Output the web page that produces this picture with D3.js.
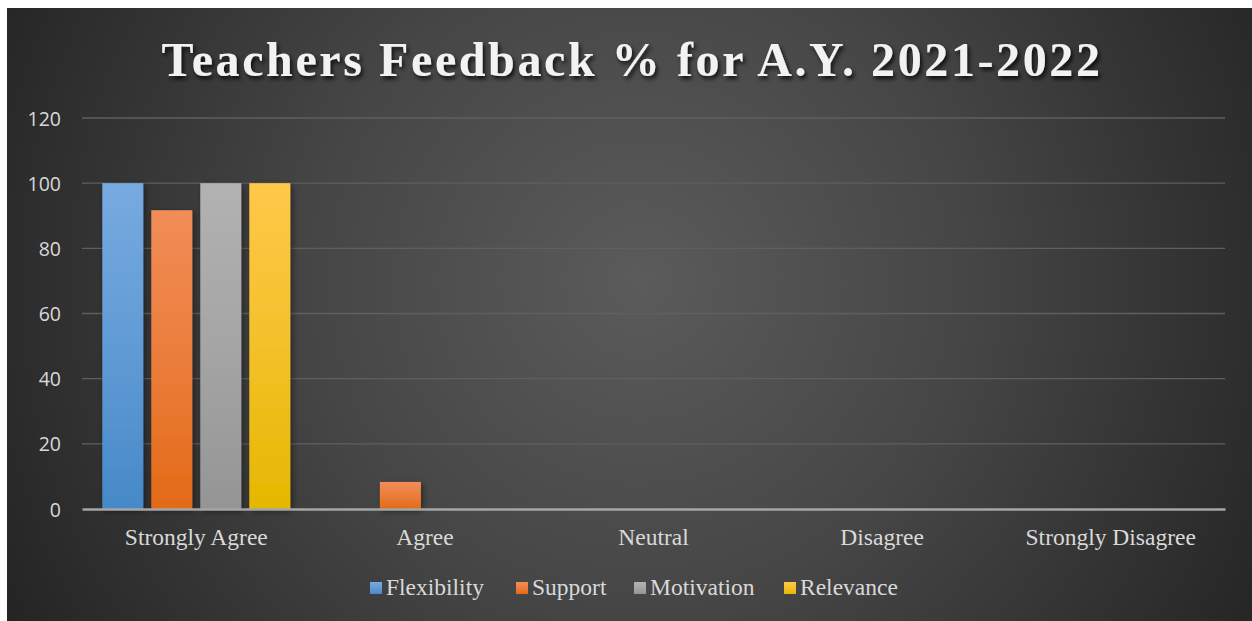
<!DOCTYPE html>
<html><head><meta charset="utf-8">
<script src="https://cdn.jsdelivr.net/npm/d3@7"></script>
<style>html,body{margin:0;padding:0;background:#fff;}svg{display:block;}</style>
</head><body>
<script>
const categories = ["Strongly Agree", "Agree", "Neutral", "Disagree", "Strongly Disagree"];
const seriesNames = ["Flexibility", "Support", "Motivation", "Relevance"];
const flexibility = [100, 0, 0, 0, 0];
const support = [91.7, 8.3, 0, 0, 0];
const motivation = [100, 0, 0, 0, 0];
const relevance = [100, 0, 0, 0, 0];
const yTicks = [0, 20, 40, 60, 80, 100, 120];
const titleText = "Teachers Feedback % for A.Y. 2021-2022";

(function () {
const seriesValues = [flexibility, support, motivation, relevance];
const colorsTop = ["#77aae0", "#f18d58", "#b2b2b2", "#ffc84a"];
const colorsBot = ["#4689c8", "#e36a17", "#959595", "#e5b800"];

const W = 1252, H = 621;
const svg = d3.select("body").append("svg").attr("width", W).attr("height", H);
const defs = svg.append("defs");

const rg = defs.append("radialGradient").attr("id", "bg")
  .attr("gradientUnits", "userSpaceOnUse")
  .attr("cx", 640).attr("cy", 280).attr("r", 720);
rg.append("stop").attr("offset", "0").attr("stop-color", "#5b5b5b");
rg.append("stop").attr("offset", "0.45").attr("stop-color", "#464646");
rg.append("stop").attr("offset", "1").attr("stop-color", "#242424");

seriesNames.forEach((s, i) => {
  const lg = defs.append("linearGradient").attr("id", "g" + i)
    .attr("x1", 0).attr("y1", 0).attr("x2", 0).attr("y2", 1);
  lg.append("stop").attr("offset", 0).attr("stop-color", colorsTop[i]);
  lg.append("stop").attr("offset", 0.5).attr("stop-color", d3.interpolateRgb(colorsTop[i], colorsBot[i])(0.45));
  lg.append("stop").attr("offset", 1).attr("stop-color", colorsBot[i]);
});

const sh = defs.append("filter").attr("id", "shadow").attr("x", "-20%").attr("y", "-20%").attr("width", "150%").attr("height", "150%");
sh.append("feDropShadow").attr("dx", 2).attr("dy", 2).attr("stdDeviation", 3).attr("flood-color", "#000").attr("flood-opacity", 0.45);

const tsh = defs.append("filter").attr("id", "tshadow").attr("x", "-5%").attr("y", "-30%").attr("width", "110%").attr("height", "160%");
tsh.append("feDropShadow").attr("dx", 2).attr("dy", 3).attr("stdDeviation", 2).attr("flood-color", "#000").attr("flood-opacity", 0.8);

svg.append("rect").attr("x", 7).attr("y", 8).attr("width", W - 7).attr("height", H - 8).attr("fill", "url(#bg)");

svg.append("text").attr("x", 632).attr("y", 76).attr("text-anchor", "middle")
  .attr("font-family", "Liberation Serif, serif").attr("font-weight", "bold")
  .attr("font-size", 48).attr("letter-spacing", 2.6).attr("fill", "#f2f2f2")
  .attr("filter", "url(#tshadow)").text(titleText);

const pLeft = 82, pRight = 1225, pTop = 118, pBottom = 509;
const y = d3.scaleLinear().domain([0, 120]).range([pBottom, pTop]);
const x0 = d3.scaleBand().domain(categories).range([pLeft, pRight]);
const x1 = d3.scaleBand().domain(seriesNames).range([0, x0.bandwidth()]).paddingInner(0.163).paddingOuter(0.414);

svg.append("g").selectAll("line").data(yTicks.filter(t => t > 0)).join("line")
  .attr("x1", pLeft).attr("x2", pRight).attr("y1", d => y(d)).attr("y2", d => y(d))
  .attr("stroke", "#5f5f5f").attr("stroke-width", 1.3);

const yAxis = d3.axisLeft(y).tickValues(yTicks).tickSize(0).tickPadding(0);
const yg = svg.append("g").attr("transform", `translate(61,0)`).call(yAxis);
yg.select(".domain").remove();
yg.selectAll("text").attr("font-family", "Open Sans, sans-serif").attr("font-size", 19.5)
  .attr("fill", "#d9d9d9").attr("dy", "0.36em");

const groups = svg.append("g").selectAll("g").data(categories).join("g")
  .attr("transform", d => `translate(${x0(d)},0)`);
groups.selectAll("rect").data((c, ci) => seriesNames.map((s, si) => ({ s, si, v: seriesValues[si][ci] })).filter(d => d.v > 0))
  .join("rect")
  .attr("x", d => x1(d.s)).attr("width", x1.bandwidth())
  .attr("y", d => y(d.v)).attr("height", d => y(0) - y(d.v))
  .attr("fill", d => `url(#g${d.si})`).attr("filter", "url(#shadow)");

const xAxis = d3.axisBottom(x0).tickSize(0).tickPadding(0);
const xg = svg.append("g").attr("transform", `translate(0,${pBottom})`).call(xAxis);
xg.select(".domain").attr("stroke", "#a6a6a6").attr("stroke-width", 2.5);
xg.selectAll("text").attr("font-family", "Liberation Serif, serif").attr("font-size", 23.5)
  .attr("fill", "#d9d9d9").attr("dy", "0").attr("y", 36);

const legendX = [370, 516, 634, 784];
const lgd = svg.append("g");
seriesNames.forEach((s, i) => {
  lgd.append("rect").attr("x", legendX[i]).attr("y", 582).attr("width", 12).attr("height", 12)
    .attr("fill", `url(#g${i})`);
  lgd.append("text").attr("x", legendX[i] + 16).attr("y", 595)
    .attr("font-family", "Liberation Serif, serif").attr("font-size", 23.5)
    .attr("fill", "#d9d9d9").text(s);
});
})();
</script>
</body></html>
